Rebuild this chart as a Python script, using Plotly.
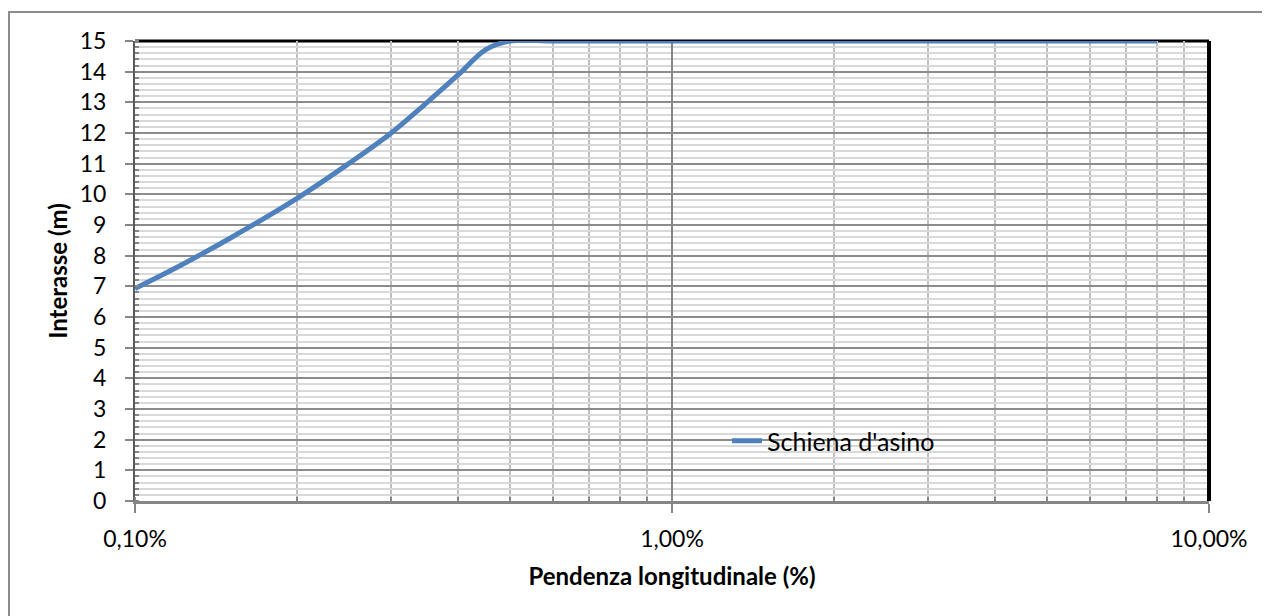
import plotly.graph_objects as go

# Data
pendenza = [0.10, 0.12, 0.15, 0.20, 0.25, 0.30, 0.35, 0.40, 0.45, 0.50,
            0.60, 0.80, 1.0, 1.5, 2.0, 3.0, 4.0, 5.0, 6.0, 8.0]
interasse = [6.93, 7.63, 8.56, 9.86, 11.0, 12.0, 13.0, 13.9, 14.72, 15.0,
             15.0, 15.0, 15.0, 15.0, 15.0, 15.0, 15.0, 15.0, 15.0, 15.0]
series_name = "Schiena d'asino"
x_tickvals = [0.1, 1, 10]
x_ticktext = ["0,10%", "1,00%", "10,00%"]
y_tickvals = list(range(0, 16))

FONT = "Lato"
OFF = 8  # page body margin
W, H = 1270 - OFF, 616 - OFF
L, R, T, B = 135 - OFF, 1209 - OFF, 41 - OFF, 501 - OFF

fig = go.Figure()
fig.add_trace(go.Scatter(
    x=pendenza, y=interasse, mode="lines", name=series_name,
    line=dict(color="#4F81BD", width=5, shape="spline", smoothing=1.0),
    cliponaxis=False,
))

fig.update_layout(
    width=W, height=H,
    margin=dict(l=L, r=W - R, t=T, b=H - B, pad=0),
    paper_bgcolor="white", plot_bgcolor="white",
    font=dict(family=FONT, size=23, color="black"),
    showlegend=True,
    legend=dict(x=(727 - OFF - L) / (R - L), y=(B - (441 - OFF)) / (B - T),
                xanchor="left", yanchor="middle",
                bgcolor="rgba(0,0,0,0)", borderwidth=0,
                font=dict(family=FONT, size=25, color="black")),
    xaxis=dict(
        type="log", range=[-1, 1],
        tickvals=x_tickvals, ticktext=x_ticktext,
        ticks="outside", ticklen=9, tickcolor="#868686", tickwidth=2,
        ticklabelstandoff=6,
        showgrid=True, gridcolor="#868686", gridwidth=2,
        showline=True, linecolor="#868686", linewidth=3,
        zeroline=False,
        minor=dict(dtick="D1", showgrid=True, gridcolor="#BFBFBF", gridwidth=2,
                   ticks="inside", ticklen=4, tickcolor="#868686"),
        title=dict(text="<b>Pendenza longitudinale (%)</b>", standoff=18,
                   font=dict(family=FONT, size=24)),
        tickfont=dict(family=FONT, size=23),
    ),
    yaxis=dict(
        range=[0, 15], tickvals=y_tickvals,
        ticks="outside", ticklen=8, tickcolor="#868686", tickwidth=2,
        showgrid=True, gridcolor="#8C8C8C", gridwidth=2,
        showline=True, linecolor="#595959", linewidth=2,
        zeroline=False,
        ticklabelstandoff=14,
        minor=dict(dtick=0.2, showgrid=True, gridcolor="#D9D9D9", gridwidth=1.5,
                   ticks="inside", ticklen=4, tickcolor="#868686"),
        title=dict(text="<b>Interasse (m)</b>", standoff=5,
                   font=dict(family=FONT, size=24)),
        tickfont=dict(family=FONT, size=23),
    ),
    shapes=[
        # outer chart border (top and left visible)
        dict(type="rect", xref="paper", yref="paper",
             x0=(9 - OFF - L) / (R - L), x1=(1300 - L) / (R - L),
             y0=(B - 650) / (B - T), y1=(B - (12 - OFF)) / (B - T),
             line=dict(color="#8C8C8C", width=2), fillcolor="rgba(0,0,0,0)",
             layer="below"),
        # top and right black plot-area edges
        dict(type="line", xref="paper", yref="paper", x0=0, x1=1, y0=1, y1=1,
             line=dict(color="black", width=3), layer="below"),
        dict(type="line", xref="paper", yref="paper", x0=1, x1=1, y0=0, y1=1,
             line=dict(color="black", width=4), layer="above"),
    ],
)

fig.write_html("out.html")
